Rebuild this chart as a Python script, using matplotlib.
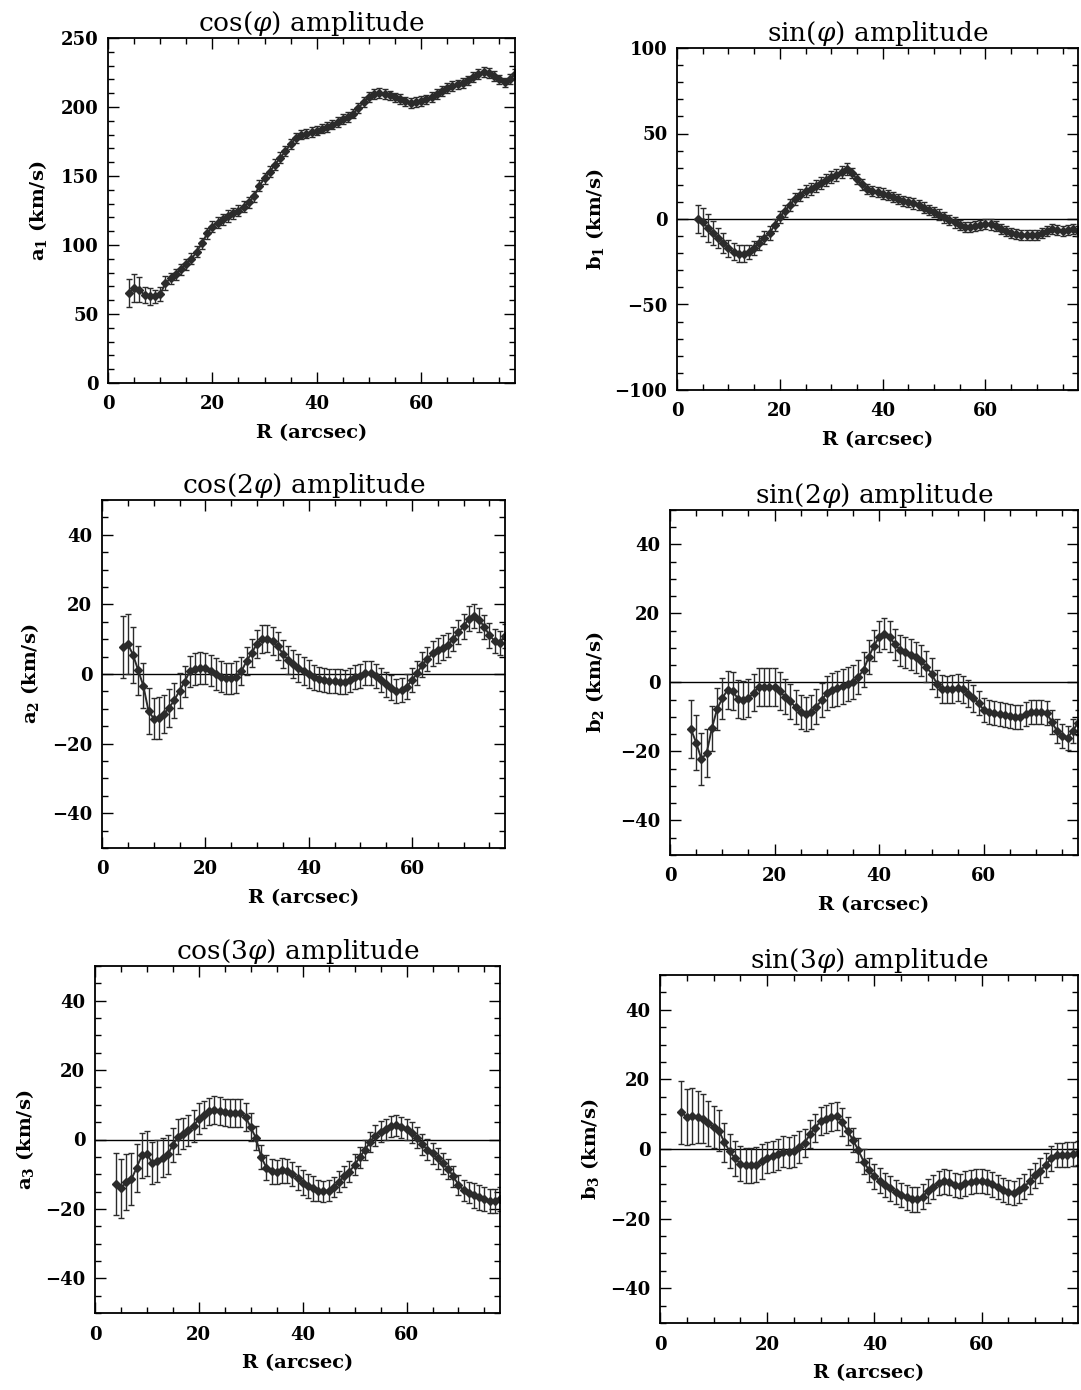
import matplotlib
matplotlib.use("Agg")
import matplotlib.pyplot as plt
from matplotlib.ticker import MultipleLocator

plt.rcParams['font.family'] = ['DejaVu Serif']
plt.rcParams['mathtext.fontset'] = 'dejavuserif'

# radius grid (arcsec)
radius = [4, 5, 6, 7, 8, 9, 10, 11, 12, 13, 14, 15, 16, 17, 18, 19, 20, 21, 22, 23,
          24, 25, 26, 27, 28, 29, 30, 31, 32, 33, 34, 35, 36, 37, 38, 39, 40, 41, 42, 43,
          44, 45, 46, 47, 48, 49, 50, 51, 52, 53, 54, 55, 56, 57, 58, 59, 60, 61, 62, 63,
          64, 65, 66, 67, 68, 69, 70, 71, 72, 73, 74, 75, 76, 77, 78]

a1 = [65, 68.7, 67.5, 63.9, 62.7, 62.7, 64.3, 72.3, 75.9, 78.8,
      82.4, 86, 89.9, 95.2, 101.2, 108.4, 113.3, 116.1, 118.8, 121,
      122.9, 124.8, 127.7, 130.8, 135.4, 142.9, 148.2, 153, 158.3, 163.1,
      168, 173, 177.6, 180, 180.7, 181.7, 182.9, 184.3, 185.5, 187.2,
      189.2, 191.1, 192.8, 195.2, 199.3, 203.6, 207.2, 209.2, 210.1, 209.4,
      208.4, 207, 205.8, 204.1, 203.1, 203.4, 204.3, 205.5, 207.2, 209.4,
      211.8, 213.7, 215.2, 216.4, 217.6, 219.3, 221.9, 224.1, 225.3, 224.8,
      222.7, 220, 217.8, 220.5, 224.1]
a1_err = [10, 10, 9, 6, 6, 5, 5, 5, 4, 4,
          4, 4, 4, 4, 4, 4, 4, 4, 4, 4,
          4, 4, 4, 4, 4, 4, 4, 4, 4, 4,
          3.5, 3.5, 3.5, 3.5, 3.5, 3.5, 3.5, 3.5, 3.5, 3.5,
          3.5, 3.5, 3.5, 3.5, 3.5, 3.5, 3.5, 3.5, 3.5, 3.5,
          3.5, 3.5, 3.5, 3.5, 3.5, 3.5, 3.5, 3.5, 3.5, 3.5,
          3.5, 3.5, 3.5, 3.5, 3.5, 3.5, 3.5, 3.5, 3.5, 3.5,
          3.5, 3.5, 3.5, 3.5, 3.5]

b1 = [0, -1.7, -5.3, -8.4, -11.2, -14.1, -17.1, -19.2, -20.2, -20.2,
      -19.2, -17.0, -14, -10.9, -8.2, -3.7, 1.2, 4.7, 8.4, 11.9,
      14.2, 16.2, 17.5, 19.1, 21.3, 23, 24.6, 26, 27.4, 29,
      27.1, 23.2, 20.2, 17.7, 16.2, 15.6, 14.9, 14, 12.9, 11.7,
      10.6, 10, 9.1, 8.2, 6.7, 5.4, 3.9, 2.6, 0.9, -0.6,
      -2, -3.7, -4.5, -4.5, -4.3, -3.5, -2.8, -3.2, -4.1, -5.7,
      -7, -8.2, -8.9, -9.3, -9.3, -9.5, -9.3, -8.3, -7, -6,
      -6.4, -7, -6.4, -5.8, -6.9]
b1_err = [8, 8, 8, 7, 6, 6, 5, 5, 5, 5,
          4, 4, 4, 4, 4, 3.5, 3.5, 3.5, 3.5, 3.5,
          3.5, 3.5, 3.5, 3.5, 3.5, 3.5, 3.5, 3.5, 3.5, 3.5,
          3, 3, 3, 3, 3, 3, 3, 3, 3, 3,
          3, 3, 3, 3, 3, 3, 3, 3, 3, 3,
          3, 3, 3, 3, 3, 3, 3, 3, 3, 3,
          3, 3, 3, 3, 3, 3, 3, 3, 3, 3,
          3, 3, 3, 3, 3]

a2 = [7.8, 8.6, 5.5, 1.1, -3.4, -10.6, -12.8, -12.7, -11.4, -9.7,
      -7.5, -4.8, -2.2, 0.8, 1.4, 1.7, 1.6, 1, 0, -0.8,
      -1.2, -1.2, -0.9, 0.8, 3.8, 6.1, 8.7, 10, 10.2, 9.6,
      8, 5.8, 4.1, 2.8, 1.8, 0.9, 0, -1, -1.4, -1.8,
      -2.1, -2.1, -2.2, -2.3, -1.7, -0.9, -0.5, 0.2, 0.2, -0.6,
      -1.8, -3, -3.9, -4.9, -4.6, -3.6, -1.8, 0.2, 2.7, 4.3,
      5.9, 6.8, 7.6, 8.4, 10.1, 12, 13.7, 15.9, 16.7, 15.6,
      13.5, 11.1, 9.5, 9, 11]
a2_err = [9, 8.5, 8, 7, 6.5, 6.5, 6, 6, 5.5, 5.5,
          5, 5, 4.5, 4.5, 4.5, 4.5, 4.5, 4.5, 4.5, 4.5,
          4.5, 4.5, 4.5, 4, 4, 4, 4, 4, 4, 4,
          4, 4, 4, 4, 4, 4, 4, 3.5, 3.5, 3.5,
          3.5, 3.5, 3.5, 3.5, 3.5, 3.5, 3.5, 3.5, 3.5, 3.5,
          3.5, 3.5, 3.5, 3.5, 3.5, 3.5, 3.5, 3.5, 3.5, 3.5,
          3.5, 3.5, 3.5, 3.5, 3.5, 3.5, 3.5, 3.5, 3.5, 3.5,
          3.5, 3.5, 3.5, 3.5, 3.5]

b2 = [-13.5, -17.4, -22.2, -20.5, -13.3, -7.7, -4.6, -2.1, -2.6, -4.7,
      -5.1, -4.6, -2.9, -1.3, -1.3, -1.2, -1.4, -2.6, -4.1, -5.5,
      -7.1, -8.5, -9.2, -8.5, -7, -5.1, -3.1, -2.2, -1.7, -1.1,
      -0.5, 0.2, 1.6, 3.7, 7.4, 10.7, 13.2, 14.1, 13.2, 11.1,
      9.4, 8.7, 8.0, 7.3, 6.3, 4.5, 2.6, -0.3, -1.9, -2,
      -1.9, -1.5, -2, -3.2, -4.6, -6, -8, -8.6, -8.9, -9.1,
      -9.4, -9.6, -9.9, -9.9, -9.2, -8.6, -8.5, -8.5, -8.9, -11.4,
      -14.1, -15.5, -16, -14.1, -11.6]
b2_err = [8.5, 8, 7.5, 7, 6.5, 6, 6, 5.5, 5.5, 5.5,
          5.5, 5.5, 5.5, 5.5, 5.5, 5.5, 5.5, 5.5, 5, 5,
          5, 5, 5, 5, 5, 5, 5, 5, 5, 5,
          5, 5, 5, 5, 5, 4.5, 4.5, 4.5, 4.5, 4.5,
          4.5, 4.5, 4.5, 4.5, 4.5, 4.5, 4.5, 4, 4, 4,
          4, 4, 4, 4, 4, 3.5, 3.5, 3.5, 3.5, 3.5,
          3.5, 3.5, 3.5, 3.5, 3.5, 3.5, 3.5, 3.5, 3.5, 3.5,
          3.5, 3.5, 3.5, 3.5, 3.5]

a3 = [-12.9, -14.1, -12.3, -11.5, -8.2, -4.6, -4.1, -6.7, -6.2, -5.2,
      -4.3, -1.6, 0.8, 1.7, 2.6, 3.9, 6, 7.2, 8.1, 8.4,
      8.2, 7.8, 7.7, 7.7, 7.7, 6.5, 3.5, 0.4, -5, -8.1,
      -9.2, -9.4, -8.9, -9.1, -9.9, -11.1, -12.4, -13.4, -14.1, -14.7,
      -14.9, -14.7, -13.7, -12.2, -10.6, -9.3, -7.3, -5.1, -3, -0.7,
      1.1, 2.3, 3, 3.8, 4.1, 3.5, 2.9, 2, 0.5, -1.4,
      -2.9, -4, -5.4, -6.9, -8.5, -10.6, -13.1, -14.6, -15.3, -16.1,
      -16.7, -17.2, -17.7, -17.8, -17.2]
a3_err = [9, 8.5, 8, 7.5, 7, 6.5, 6.5, 6, 6, 5.5,
          5.5, 5, 5, 4.5, 4.5, 4.5, 4.5, 4, 4, 4,
          4, 4, 4, 4, 4, 4, 4, 3.5, 3.5, 3.5,
          3.5, 3.5, 3.5, 3.5, 3.5, 3.5, 3.5, 3.5, 3.5, 3,
          3, 3, 3, 3, 3, 3, 3, 3, 3, 3,
          3, 3, 3, 3, 3, 3, 3, 3, 3, 3,
          3, 3, 3, 3, 3, 3, 3, 3, 3, 3.5,
          3.5, 3.5, 3.5, 3.5, 3.5]

b3 = [10.5, 9.2, 9.4, 9.2, 8.7, 7.4, 6.4, 5.3, 1.9, -0.6,
      -2.7, -4.2, -4.7, -4.7, -4.5, -3.5, -2.5, -2.1, -1.5, -0.8,
      -1, -0.6, 0.6, 1.8, 4.2, 6.1, 8.1, 8.7, 9.3, 9.5,
      7.7, 5.2, 2.6, -0.3, -3.6, -6.1, -7.9, -9.1, -10.4, -11.3,
      -12.3, -13.2, -13.9, -14.5, -14.5, -13.7, -12.1, -11, -9.8, -9.3,
      -9.6, -10.3, -10.7, -9.9, -9.5, -9.2, -9.2, -9.4, -10.2, -11,
      -11.7, -12.4, -12.6, -11.9, -10.8, -9.3, -7.6, -6.2, -4.6, -2.7,
      -1.8, -1.7, -1.6, -1.5, -1.2]
b3_err = [9, 8, 8, 7.5, 7, 6.5, 6, 6, 5.5, 5,
          5, 5, 5, 5, 5, 5, 4.5, 4.5, 4.5, 4.5,
          4.5, 4.5, 4.5, 4, 4, 4, 4, 4, 4, 4,
          4, 4, 3.5, 3.5, 3.5, 3.5, 3.5, 3.5, 3.5, 3.5,
          3.5, 3.5, 3.5, 3.5, 3.5, 3.5, 3.5, 3.5, 3.5, 3.5,
          3.5, 3.5, 3.5, 3.5, 3.5, 3.5, 3.5, 3.5, 3.5, 3.5,
          3.5, 3.5, 3.5, 3.5, 3.5, 3.5, 3.5, 3.5, 3.5, 3.5,
          3.5, 3.5, 3.5, 3.5, 3.5]

titles = [r"cos($\varphi$) amplitude", r"sin($\varphi$) amplitude",
          r"cos(2$\varphi$) amplitude", r"sin(2$\varphi$) amplitude",
          r"cos(3$\varphi$) amplitude", r"sin(3$\varphi$) amplitude"]
ylabels = [r"a$_\mathbf{1}$ (km/s)", r"b$_\mathbf{1}$ (km/s)", r"a$_\mathbf{2}$ (km/s)",
           r"b$_\mathbf{2}$ (km/s)", r"a$_\mathbf{3}$ (km/s)", r"b$_\mathbf{3}$ (km/s)"]
values = [a1, b1, a2, b2, a3, b3]
errors = [a1_err, b1_err, a2_err, b2_err, a3_err, b3_err]

W, H = 1081, 1390
# panel boxes in pixels: left, right, top, bottom
boxes = [(108, 515, 38, 383), (677, 1078, 48, 390),
         (102, 505, 500, 848), (670, 1078, 510, 855),
         (95, 500, 966, 1313), (660, 1078, 975, 1323)]
ylab_x = [38, 595, 30, 595, 25, 590]

fig = plt.figure(figsize=(W / 100, H / 100), dpi=100)
col = '#2b2b2b'

for i in range(6):
    l, r, t, b = boxes[i]
    ax = fig.add_axes([l / W, 1 - b / H, (r - l) / W, (b - t) / H])
    if i > 0:
        ax.axhline(0, color='k', lw=1.0, zorder=1)
    ax.errorbar(radius, values[i], yerr=errors[i], fmt='-D', color=col,
                ecolor=col, ms=4, lw=1.4, elinewidth=1.0, capsize=2.2,
                capthick=1.0, zorder=2)
    ax.set_xlim(0, 78)
    if i == 0:
        ax.set_ylim(0, 250)
        ax.yaxis.set_major_locator(MultipleLocator(50))
        ax.yaxis.set_minor_locator(MultipleLocator(10))
    elif i == 1:
        ax.set_ylim(-100, 100)
        ax.yaxis.set_major_locator(MultipleLocator(50))
        ax.yaxis.set_minor_locator(MultipleLocator(10))
    else:
        ax.set_ylim(-50, 50)
        ax.yaxis.set_major_locator(MultipleLocator(20))
        ax.yaxis.set_minor_locator(MultipleLocator(5))
    ax.xaxis.set_major_locator(MultipleLocator(20))
    ax.xaxis.set_minor_locator(MultipleLocator(5))
    ax.tick_params(which='both', direction='in', top=True, right=True,
                   labelsize=13, width=1.0)
    ax.tick_params(which='major', length=8)
    ax.tick_params(which='minor', length=4)
    ax.tick_params(axis='x', pad=9)
    ax.tick_params(axis='y', pad=7)
    for lab in ax.get_xticklabels() + ax.get_yticklabels():
        lab.set_fontweight('bold')
    for s in ax.spines.values():
        s.set_linewidth(1.3)
    ax.set_title(titles[i], fontsize=19, pad=5)
    ax.set_xlabel("R (arcsec)", fontsize=14, fontweight='bold')
    ax.xaxis.set_label_coords(0.5, -50 / (b - t))
    ax.xaxis.label.set_va('center')
    ax.set_ylabel(ylabels[i], fontsize=14, fontweight='bold')
    ax.yaxis.set_label_coords((ylab_x[i] - l) / (r - l), 0.5)
    ax.yaxis.label.set_va('center')

fig.savefig("out.png", dpi=100, facecolor='white')
